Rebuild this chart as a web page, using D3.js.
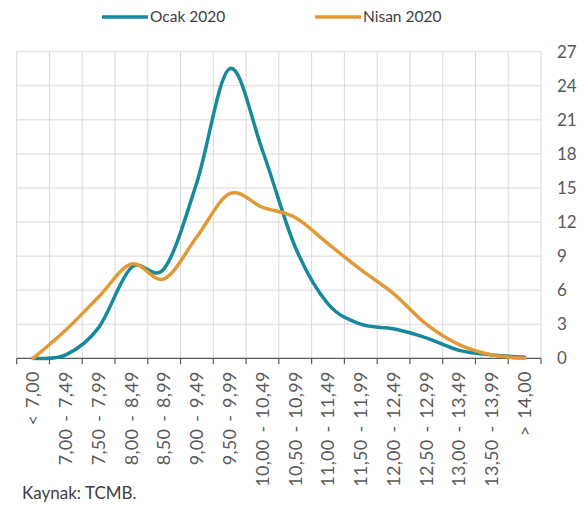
<!DOCTYPE html>
<html><head><meta charset="utf-8">
<script src="https://cdn.jsdelivr.net/npm/d3@7"></script>
<style>
html,body{margin:0;padding:0;background:#fff;}
svg{display:block;font-family:Lato,"Open Sans",sans-serif;}
</style></head>
<body>
<svg id="chart" width="587" height="509"></svg>
<script>
const categories = ["< 7,00","7,00 - 7,49","7,50 - 7,99","8,00 - 8,49","8,50 - 8,99","9,00 - 9,49","9,50 - 9,99","10,00 - 10,49","10,50 - 10,99","11,00 - 11,49","11,50 - 11,99","12,00 - 12,49","12,50 - 12,99","13,00 - 13,49","13,50 - 13,99","> 14,00"];
const ocak2020 = [0, 0.3, 2.7, 8.0, 7.9, 15.5, 25.5, 18.3, 9.8, 4.8, 3.0, 2.6, 1.8, 0.7, 0.3, 0.1];
const nisan2020 = [0, 2.5, 5.4, 8.3, 7.0, 10.7, 14.5, 13.3, 12.4, 10.1, 7.8, 5.7, 3.0, 1.2, 0.3, 0.0];
const yTicks = [0,3,6,9,12,15,18,21,24,27];
const seriesNames = ["Ocak 2020","Nisan 2020"];
const colors = ["#17899c","#e09a38"];

(function(){
const svg = d3.select("#chart");
const pL = 16.7, pR = 541, pT = 51.7, pB = 358.3;
const x = d3.scaleBand().domain(categories).range([pL, pR]).padding(0);
const y = d3.scaleLinear().domain([0,27]).range([pB, pT]);

svg.append("g").selectAll("line").data(yTicks.filter(d=>d>0)).join("line")
  .attr("x1", pL).attr("x2", pR)
  .attr("y1", d=>y(d)).attr("y2", d=>y(d))
  .attr("stroke","#d9d9d9").attr("stroke-width",1);
const bounds = categories.map(c=>x(c)).concat([pR]);
svg.append("g").selectAll("line").data(bounds).join("line")
  .attr("x1", d=>d).attr("x2", d=>d)
  .attr("y1", pT).attr("y2", pB)
  .attr("stroke","#d9d9d9").attr("stroke-width",1);

svg.append("g").selectAll("text").data(yTicks).join("text")
  .attr("x", 557).attr("y", d=>y(d)).attr("dy","0.35em")
  .attr("font-size",17).attr("fill","#595959")
  .text(d=>d);

const xa = svg.append("g");
xa.append("line").attr("x1",pL).attr("x2",pR).attr("y1",pB).attr("y2",pB)
  .attr("stroke","#595959").attr("stroke-width",1.2);
xa.selectAll("line.tick").data(bounds).join("line").attr("class","tick")
  .attr("x1",d=>d).attr("x2",d=>d).attr("y1",pB).attr("y2",pB+6)
  .attr("stroke","#595959").attr("stroke-width",1.2);
xa.selectAll("text").data(categories).join("text")
  .attr("transform", d=>`translate(${x(d)+x.bandwidth()/2},${pB+13}) rotate(-90)`)
  .attr("text-anchor","end").attr("dy","0.35em")
  .attr("font-size",18).attr("fill","#595959")
  .attr("word-spacing","2px").attr("letter-spacing","0.3px")
  .text(d=>d);

const line = d3.line()
  .x((d,i)=>x(categories[i])+x.bandwidth()/2)
  .y(d=>y(d))
  .curve(d3.curveCardinal.tension(0));
[ocak2020, nisan2020].forEach((s,k)=>{
  svg.append("path").datum(s).attr("d",line)
    .attr("fill","none").attr("stroke",colors[k]).attr("stroke-width",3.5)
    .attr("stroke-linejoin","round").attr("stroke-linecap","round");
});

const legendX = [102, 315];
seriesNames.forEach((n,k)=>{
  const g = svg.append("g");
  g.append("line").attr("x1",legendX[k]).attr("x2",legendX[k]+46).attr("y1",17).attr("y2",17)
    .attr("stroke",colors[k]).attr("stroke-width",3.5);
  g.append("text").attr("x",legendX[k]+48).attr("y",17).attr("dy","0.35em")
    .attr("font-size",15.5).attr("fill","#404040").text(n);
});

svg.append("text").attr("x",22).attr("y",493).attr("dy","0.35em")
  .attr("font-size",17).attr("fill","#404040").text("Kaynak: TCMB.");
})();
</script>
</body></html>
